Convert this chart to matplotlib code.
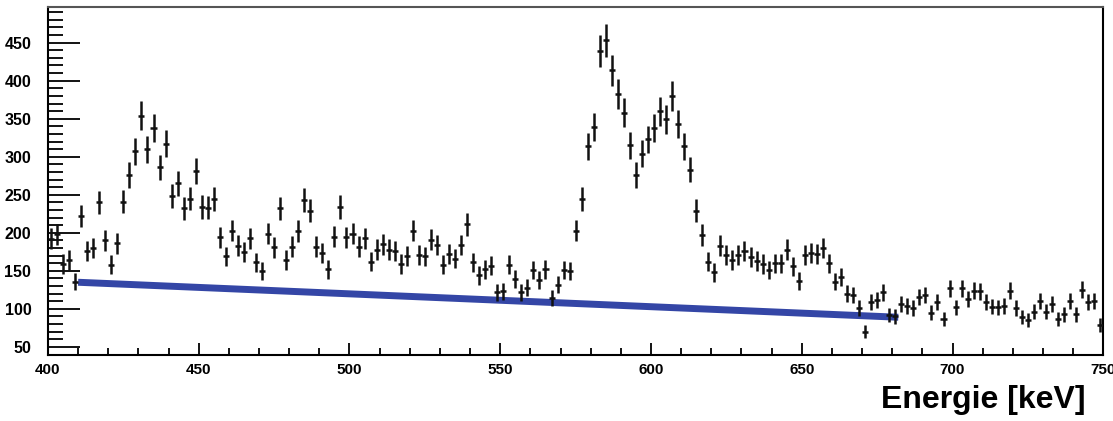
import numpy as np
import matplotlib
matplotlib.use("Agg")
import matplotlib.pyplot as plt
from matplotlib.ticker import MultipleLocator

# Histogram contents, 2 keV bins from 400 to 750 keV
bin_centers = np.arange(401, 750, 2)
counts = [
    192, 198, 159, 164, 136, 222, 176, 180, 240, 190,
    158, 186, 241, 276, 307, 354, 310, 338, 286, 317,
    249, 265, 232, 245, 281, 234, 233, 244, 194, 169,
    203, 183, 175, 193, 161, 150, 199, 181, 232, 164,
    182, 202, 243, 229, 182, 174, 152, 195, 234, 194,
    199, 182, 193, 162, 178, 185, 178, 176, 159, 170,
    203, 171, 169, 191, 184, 158, 172, 166, 184, 211,
    161, 144, 152, 157, 122, 123, 158, 139, 122, 128,
    151, 138, 152, 114, 132, 151, 150, 203, 244, 314,
    339, 439, 453, 414, 383, 358, 315, 276, 304, 323,
    338, 360, 349, 380, 343, 314, 283, 229, 197, 162,
    148, 183, 171, 164, 171, 176, 168, 163, 159, 151,
    160, 160, 178, 156, 137, 171, 173, 172, 180, 160,
    136, 142, 120, 118, 101, 70, 109, 112, 122, 92,
    90, 106, 104, 101, 116, 118, 95, 109, 87, 127,
    102, 127, 113, 124, 123, 109, 103, 102, 104, 124,
    101, 89, 85, 96, 111, 96, 106, 87, 93, 111,
    93, 125, 109, 111, 79,
]

# Linear background under the peaks
bg_energy = [410, 682]
bg_counts = [135, 89]

counts = np.array(counts, dtype=float)

fig = plt.figure(figsize=(11.13, 4.21), dpi=100)
ax = fig.add_axes([0.0431, 0.157, 0.9482, 0.8266])

ax.errorbar(bin_centers, counts, xerr=1.0, yerr=np.sqrt(counts),
            fmt="none", ecolor="#111111", elinewidth=1.8, capsize=0, zorder=3)
ax.plot(bg_energy, bg_counts, color="#3446a6", lw=5,
        solid_capstyle="butt", zorder=2)

ax.set_xlim(400, 750)
ax.set_ylim(39.5, 497)

ax.xaxis.set_major_locator(MultipleLocator(50))
ax.xaxis.set_minor_locator(MultipleLocator(10))
ax.yaxis.set_minor_locator(MultipleLocator(10))
ax.set_yticks([50, 100, 150, 200, 250, 300, 350, 400, 450])

ax.tick_params(axis="y", which="major", direction="in", length=23,
               width=1.3, pad=12, labelsize=11.5)
ax.tick_params(axis="y", which="minor", direction="in", length=11, width=1.3)
ax.tick_params(axis="x", which="major", direction="in", length=9,
               width=1.3, pad=6, labelsize=11)
ax.tick_params(axis="x", which="minor", direction="in", length=5, width=1.3)

for lab in ax.get_xticklabels() + ax.get_yticklabels():
    lab.set_fontfamily(["Liberation Sans", "DejaVu Sans"])
    lab.set_fontweight("bold")

for side in ax.spines.values():
    side.set_linewidth(1.5)
ax.spines["top"].set_color("#555555")

fig.text(0.975, 0.03, "Energie [keV]", ha="right", va="baseline",
         fontsize=23, fontweight="bold",
         family=["Liberation Sans Narrow", "Liberation Sans", "DejaVu Sans"])

fig.savefig("out.png", dpi=100)
